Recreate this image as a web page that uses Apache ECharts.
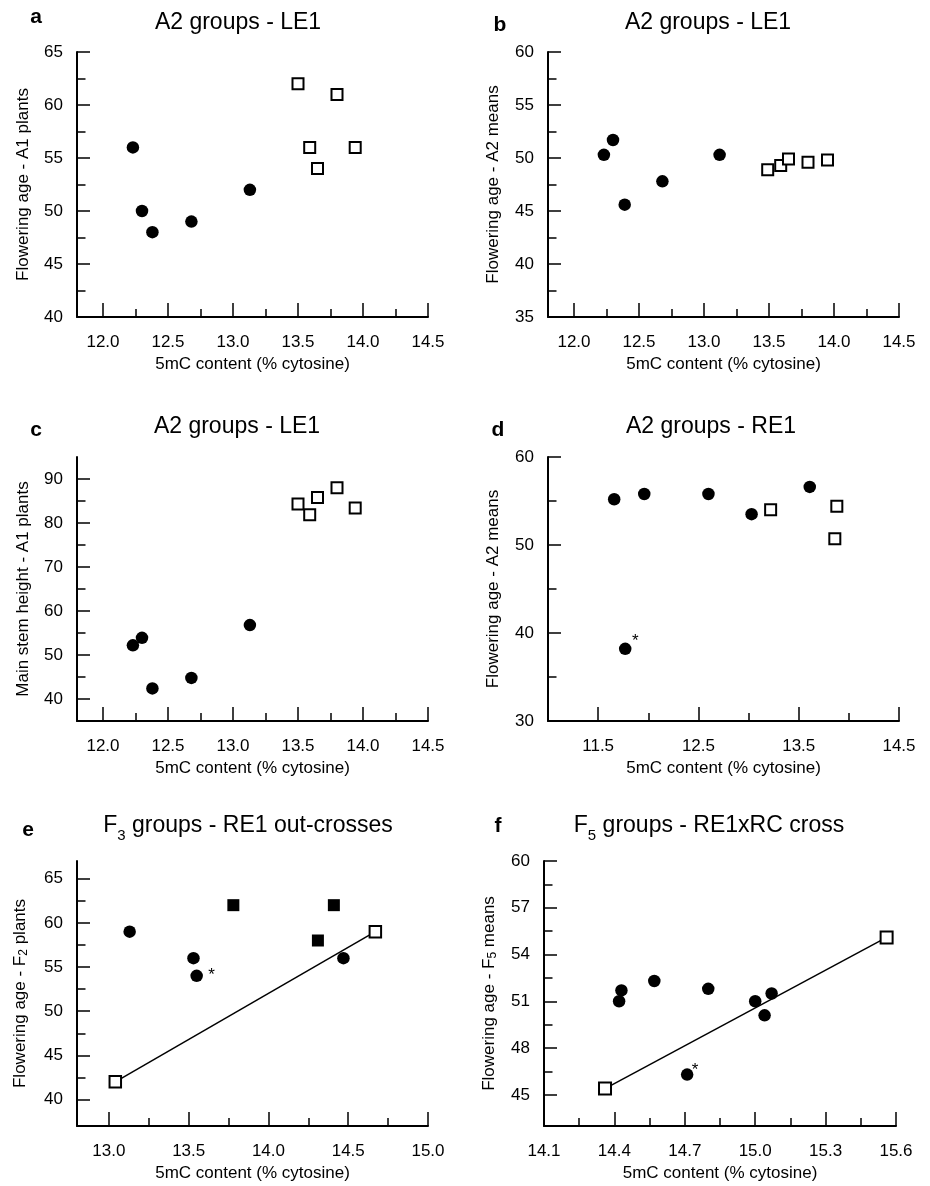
<!DOCTYPE html>
<html>
<head>
<meta charset="utf-8">
<script src="https://cdn.jsdelivr.net/npm/echarts@6/dist/echarts.min.js"></script>
<style>
  html, body { margin: 0; padding: 0; background: #fff; }
  #chart { width: 930px; height: 1186px; }
</style>
</head>
<body>
<div id="chart"></div>
<script>
const FONT = '"Liberation Sans", Arial, Helvetica, sans-serif';

// a: A2 groups - LE1, flowering age of A1 plants
const aCircles = [[12.23, 56], [12.30, 50], [12.38, 48], [12.68, 49], [13.13, 52]];
const aSquares = [[13.50, 62], [13.80, 61], [13.59, 56], [13.94, 56], [13.65, 54]];
// b: A2 groups - LE1, flowering age of A2 means
const bCircles = [[12.23, 50.3], [12.30, 51.7], [12.39, 45.6], [12.68, 47.8], [13.12, 50.3]];
const bSquares = [[13.49, 48.9], [13.59, 49.3], [13.65, 49.9], [13.80, 49.6], [13.95, 49.8]];
// c: A2 groups - LE1, main stem height
const cCircles = [[12.23, 52.2], [12.30, 53.9], [12.38, 42.4], [12.68, 44.8], [13.13, 56.8]];
const cSquares = [[13.50, 84.3], [13.59, 81.9], [13.65, 85.8], [13.80, 88.0], [13.94, 83.4]];
// d: A2 groups - RE1
const dCircles = [[11.66, 55.2], [11.96, 55.8], [12.60, 55.8], [13.03, 53.5], [13.61, 56.6], [11.77, 38.2]];
const dSquares = [[13.22, 54.0], [13.88, 54.4], [13.86, 50.7]];
const dStar = 5;
// e: F3 groups - RE1 out-crosses
const eCircles = [[13.13, 59], [13.53, 56], [13.55, 54], [14.47, 56]];
const eFilled = [[13.78, 62], [14.41, 62], [14.31, 58]];
const eParents = [[13.04, 42], [14.67, 59]];
const eStar = 2;
// f: F5 groups - RE1xRC cross
const fCircles = [[14.42, 51.0], [14.43, 51.7], [14.57, 52.3], [14.80, 51.8], [15.00, 51.0], [15.07, 51.5], [15.04, 50.1], [14.71, 46.3]];
const fParents = [[14.36, 45.4], [15.56, 55.1]];
const fStar = 7;

// axis ranges and ticks
const xLE = [11.8, 14.5], xLEMajor = [12.0, 12.5, 13.0, 13.5, 14.0, 14.5], xLEMinor = [12.25, 12.75, 13.25, 13.75, 14.25];
const xRE = [11.0, 14.5], xREMajor = [11.5, 12.5, 13.5, 14.5], xREMinor = [12.0, 13.0, 14.0];
const xE = [12.8, 15.0], xEMajor = [13.0, 13.5, 14.0, 14.5, 15.0], xEMinor = [13.25, 13.75, 14.25, 14.75];
const xF = [14.1, 15.6], xFMajor = [14.1, 14.4, 14.7, 15.0, 15.3, 15.6], xFMinor = [14.25, 14.55, 14.85, 15.15, 15.45];
const yA = [40, 65], yAMajor = [40, 45, 50, 55, 60, 65], yAMinor = [42.5, 47.5, 52.5, 57.5, 62.5];
const yB = [35, 60], yBMajor = [35, 40, 45, 50, 55, 60], yBMinor = [37.5, 42.5, 47.5, 52.5, 57.5];
const yC = [35, 95], yCMajor = [40, 50, 60, 70, 80, 90], yCMinor = [45, 55, 65, 75, 85];
const yD = [30, 60], yDMajor = [30, 40, 50, 60], yDMinor = [35, 45, 55];
const yE = [37, 67], yEMajor = [40, 45, 50, 55, 60, 65], yEMinor = [42.5, 47.5, 52.5, 57.5, 62.5];
const yF = [43, 60], yFMajor = [45, 48, 51, 54, 57, 60], yFMinor = [46.5, 49.5, 52.5, 55.5, 58.5];

const grids = [
  { left: 77, top: 52, width: 351, height: 265 },
  { left: 548, top: 52, width: 351, height: 265 },
  { left: 77, top: 457, width: 351, height: 264 },
  { left: 548, top: 457, width: 351, height: 264 },
  { left: 77, top: 861, width: 351, height: 265 },
  { left: 544, top: 861, width: 352, height: 265 }
];

const txt = { color: '#000', fontFamily: FONT, fontSize: 17 };
const sub = { s: { fontSize: 12, fontFamily: FONT, color: '#000', padding: [8, 0, 0, 0] } };

const xAxes = [];
const yAxes = [];
const addAxes = (gi, xr, xMaj, xMin, yr, yMaj, yMin, yName, yGap) => {
  xAxes.push({
    gridIndex: gi, type: 'value', position: 'bottom', min: xr[0], max: xr[1],
    axisLine: { show: true, onZero: false, lineStyle: { color: '#000', width: 2 } },
    axisTick: { show: true, inside: true, length: 14, customValues: xMaj, lineStyle: { color: '#000', width: 1.5 } },
    axisLabel: Object.assign({ customValues: xMaj, margin: 17, formatter: v => v.toFixed(1) }, txt),
    splitLine: { show: false },
    name: '5mC content (% cytosine)', nameLocation: 'middle', nameGap: 39,
    nameTextStyle: txt
  });
  xAxes.push({
    gridIndex: gi, type: 'value', position: 'bottom', min: xr[0], max: xr[1],
    axisLine: { show: false },
    axisTick: { show: true, inside: true, length: 8, customValues: xMin, lineStyle: { color: '#000', width: 1.5 } },
    axisLabel: { show: false }, splitLine: { show: false }
  });
  yAxes.push({
    gridIndex: gi, type: 'value', position: 'left', min: yr[0], max: yr[1],
    axisLine: { show: true, onZero: false, lineStyle: { color: '#000', width: 2 } },
    axisTick: { show: true, inside: true, length: 13, customValues: yMaj, lineStyle: { color: '#000', width: 1.5 } },
    axisLabel: Object.assign({ customValues: yMaj, margin: 14, formatter: v => String(v) }, txt),
    splitLine: { show: false },
    name: yName, nameLocation: 'middle', nameGap: yGap,
    nameTextStyle: Object.assign({ rich: sub }, txt)
  });
  yAxes.push({
    gridIndex: gi, type: 'value', position: 'left', min: yr[0], max: yr[1],
    axisLine: { show: false },
    axisTick: { show: true, inside: true, length: 8.5, customValues: yMin, lineStyle: { color: '#000', width: 1.5 } },
    axisLabel: { show: false }, splitLine: { show: false }
  });
};

addAxes(0, xLE, xLEMajor, xLEMinor, yA, yAMajor, yAMinor, 'Flowering age - A1 plants', 45);
addAxes(1, xLE, xLEMajor, xLEMinor, yB, yBMajor, yBMinor, 'Flowering age - A2 means', 46);
addAxes(2, xLE, xLEMajor, xLEMinor, yC, yCMajor, yCMinor, 'Main stem height - A1 plants', 45);
addAxes(3, xRE, xREMajor, xREMinor, yD, yDMajor, yDMinor, 'Flowering age - A2 means', 46);
addAxes(4, xE, xEMajor, xEMinor, yE, yEMajor, yEMinor, 'Flowering age - F{s|2} plants', 47);
addAxes(5, xF, xFMajor, xFMinor, yF, yFMajor, yFMinor, 'Flowering age - F{s|5} means', 45);

const star = (data, idx, offset) => data.map((p, i) => i === idx
  ? { value: p, label: { show: true, formatter: '*', position: 'inside', offset: offset, color: '#000', fontSize: 17, fontFamily: FONT } }
  : p);

const circles = (gi, data) => ({
  type: 'scatter', xAxisIndex: gi * 2, yAxisIndex: gi * 2, data: data,
  symbol: 'circle', symbolSize: 12.5, itemStyle: { color: '#000', opacity: 1 }, z: 3
});
const openSquares = (gi, data, size) => ({
  type: 'scatter', xAxisIndex: gi * 2, yAxisIndex: gi * 2, data: data,
  symbol: 'rect', symbolSize: size || 11,
  itemStyle: { color: '#fff', borderColor: '#000', borderWidth: 2, opacity: 1 }, z: 4
});
const filledSquares = (gi, data) => ({
  type: 'scatter', xAxisIndex: gi * 2, yAxisIndex: gi * 2, data: data,
  symbol: 'rect', symbolSize: 12, itemStyle: { color: '#000', opacity: 1 }, z: 3
});
const fitLine = (gi, data) => ({
  type: 'line', xAxisIndex: gi * 2, yAxisIndex: gi * 2, data: data,
  symbol: 'none', lineStyle: { color: '#000', width: 1.5 }, z: 2
});

const series = [
  circles(0, aCircles), openSquares(0, aSquares),
  circles(1, bCircles), openSquares(1, bSquares),
  circles(2, cCircles), openSquares(2, cSquares),
  circles(3, star(dCircles, dStar, [10, -8])), openSquares(3, dSquares),
  fitLine(4, eParents), circles(4, star(eCircles, eStar, [15, -1])), filledSquares(4, eFilled), openSquares(4, eParents, 11.5),
  fitLine(5, fParents), circles(5, star(fCircles, fStar, [8, -4.5])), openSquares(5, fParents, 12)
];

const title = (text, x, y) => ({
  type: 'text', x: x, y: y,
  style: {
    text: text, fill: '#000', fontSize: 23, fontFamily: FONT, align: 'center', verticalAlign: 'middle',
    rich: {
      m: { fontSize: 23, fontFamily: FONT, color: '#000', lineHeight: 40 },
      s: { fontSize: 15, fontFamily: FONT, color: '#000', padding: [19, 0, 0, 0] }
    }
  }
});
const letter = (text, x, y) => ({
  type: 'text', x: x, y: y,
  style: { text: text, fill: '#000', fontSize: 21, fontWeight: 'bold', fontFamily: FONT, align: 'center', verticalAlign: 'middle' }
});

const chart = echarts.init(document.getElementById('chart'));
chart.setOption({
  animation: false,
  backgroundColor: '#fff',
  grid: grids,
  xAxis: xAxes,
  yAxis: yAxes,
  series: series,
  graphic: { elements: [
    letter('a', 36, 17), letter('b', 500, 25), letter('c', 36, 430),
    letter('d', 498, 430), letter('e', 28, 830), letter('f', 498, 826),
    title('A2 groups - LE1', 238, 23), title('A2 groups - LE1', 708, 23),
    title('A2 groups - LE1', 237, 427), title('A2 groups - RE1', 711, 427),
    title('{m|F}{s|3}{m| groups - RE1 out-crosses}', 248, 826),
    title('{m|F}{s|5}{m| groups - RE1xRC cross}', 709, 826)
  ] }
});
window.addEventListener('resize', () => chart.resize());
</script>
</body>
</html>
